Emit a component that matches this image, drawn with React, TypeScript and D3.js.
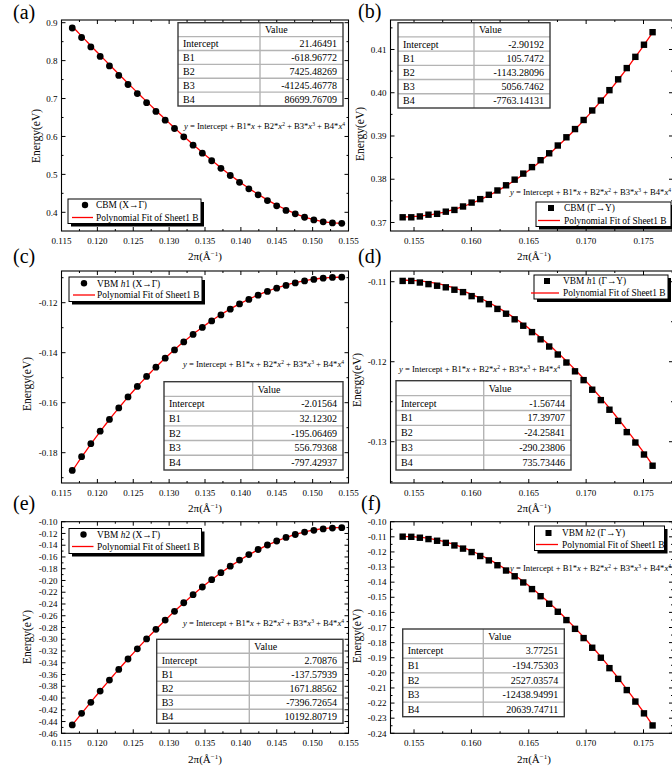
import * as d3 from "d3";

// k-point positions (2π/Å)
const xXG = [
  0.1165, 0.1178, 0.11909, 0.12039, 0.12168, 0.12298, 0.12427, 0.12557, 0.12686, 0.12816,
  0.12945, 0.13075, 0.13204, 0.13334, 0.13463, 0.13593, 0.13722, 0.13852, 0.13981, 0.14111,
  0.1424, 0.1437, 0.14499, 0.14629, 0.14758, 0.14888, 0.15017, 0.15147, 0.15276, 0.15406,
];
const xGY = [
  0.15401, 0.15476, 0.15551, 0.15626, 0.15701, 0.15777, 0.15852, 0.15927, 0.16002, 0.16077,
  0.16152, 0.16227, 0.16302, 0.16377, 0.16452, 0.16528, 0.16603, 0.16678, 0.16753, 0.16828,
  0.16903, 0.16978, 0.17053, 0.17128, 0.17203, 0.17279, 0.17354, 0.17429, 0.17504, 0.17579,
];

// band energies (eV)
const cbmXG = [
  0.886, 0.861, 0.836, 0.811, 0.786, 0.761, 0.737, 0.713, 0.689, 0.666,
  0.643, 0.621, 0.599, 0.577, 0.556, 0.536, 0.516, 0.497, 0.479, 0.462,
  0.446, 0.431, 0.417, 0.405, 0.396, 0.387, 0.38, 0.375, 0.372, 0.371,
];
const cbmGY = [
  0.3712, 0.3712, 0.3714, 0.3718, 0.372, 0.3725, 0.3729, 0.3737, 0.3746, 0.3754,
  0.3764, 0.3774, 0.3786, 0.3799, 0.3813, 0.3828, 0.3844, 0.386, 0.3878, 0.3897,
  0.3916, 0.3937, 0.3959, 0.3982, 0.4006, 0.4031, 0.4057, 0.4083, 0.4111, 0.414,
];
const vbmH1XG = [
  -0.1871, -0.1816, -0.1764, -0.1714, -0.1667, -0.1621, -0.1577, -0.1535, -0.1495, -0.1458,
  -0.1422, -0.1389, -0.1357, -0.1327, -0.1299, -0.1273, -0.1249, -0.1226, -0.1205, -0.1187,
  -0.117, -0.1155, -0.1142, -0.1131, -0.1121, -0.1113, -0.1107, -0.1102, -0.1099, -0.1098,
];
const vbmH1GY = [
  -0.1099, -0.1099, -0.1101, -0.1103, -0.1105, -0.1107, -0.111, -0.1113, -0.1118, -0.1122,
  -0.1128, -0.1134, -0.114, -0.1147, -0.1155, -0.1163, -0.1172, -0.1181, -0.1191, -0.1201,
  -0.1212, -0.1223, -0.1235, -0.1248, -0.126, -0.1274, -0.1288, -0.1301, -0.1316, -0.133,
];
const vbmH2XG = [
  -0.4458, -0.426, -0.4073, -0.3882, -0.3695, -0.3513, -0.3336, -0.3163, -0.2995, -0.2831,
  -0.2674, -0.2524, -0.2379, -0.2241, -0.2111, -0.1987, -0.1868, -0.1757, -0.1653, -0.1559,
  -0.1473, -0.1396, -0.1328, -0.1268, -0.1218, -0.1177, -0.1146, -0.1123, -0.1109, -0.1102,
];
const vbmH2GY = [
  -0.1099, -0.11, -0.1106, -0.1115, -0.1126, -0.114, -0.1157, -0.1178, -0.1201, -0.1227,
  -0.1256, -0.1288, -0.1323, -0.1361, -0.1402, -0.1446, -0.1493, -0.1543, -0.1596, -0.1651,
  -0.1709, -0.177, -0.1834, -0.19, -0.1969, -0.204, -0.2114, -0.219, -0.2268, -0.2348,
];

// polynomial fit coefficients: Intercept, B1..B4
const coefLabels = ["Intercept", "B1", "B2", "B3", "B4"];
const coefA = [21.46491, -618.96772, 7425.48269, -41245.46778, 86699.76709];
const coefB = [-2.90192, 105.7472, -1143.28096, 5056.7462, -7763.14131];
const coefC = [-2.01564, 32.12302, -195.06469, 556.79368, -797.42937];
const coefD = [-1.56744, 17.39707, -24.25841, -290.23806, 735.73446];
const coefE = [2.70876, -137.57939, 1671.88562, -7396.72654, 10192.80719];
const coefF = [3.77251, -194.75303, 2527.03574, -12438.94991, 20639.74711];

// tick labels
const xTicksXG = [0.115, 0.12, 0.125, 0.13, 0.135, 0.14, 0.145, 0.15, 0.155];
const xTicksGY = [0.155, 0.16, 0.165, 0.17, 0.175];
const yTicksA = [0.4, 0.5, 0.6, 0.7, 0.8, 0.9];
const yTicksB = [0.37, 0.38, 0.39, 0.4, 0.41];
const yTicksC = [-0.18, -0.16, -0.14, -0.12];
const yTicksD = [-0.13, -0.12, -0.11];
const yTicksE = [
  -0.46, -0.44, -0.42, -0.4, -0.38, -0.36, -0.34, -0.32, -0.3, -0.28,
  -0.26, -0.24, -0.22, -0.2, -0.18, -0.16, -0.14, -0.12, -0.1,
];
const yTicksF = [
  -0.24, -0.23, -0.22, -0.21, -0.2, -0.19, -0.18, -0.17, -0.16, -0.15, -0.14, -0.13, -0.12, -0.11, -0.1,
];

const FONT = '"Liberation Serif", "DejaVu Serif", serif';

type Box = [number, number, number, number];
type Cfg = {
  letter: string;
  letterPos: [number, number];
  xs: number[];
  ys: number[];
  coef: number[];
  xDomain: [number, number];
  xRange: [number, number];
  yDomain: [number, number];
  yRange: [number, number];
  xTicks: number[];
  yTicks: number[];
  yDigits: number;
  xMinor: number;
  yMinor: number;
  symbol: "circle" | "square";
  legend: { box: Box; rows: [number, number]; symX: number; line: [number, number]; textX: number; label: [string, string, string] };
  table: { x0: number; x1: number; xd: number; y0: number; y1: number };
  formula: [number, number];
  yTitle: [number, number];
  xTitle: [number, number];
};

const poly = (c: number[], x: number) => c[0] + c[1] * x + c[2] * x * x + c[3] * x ** 3 + c[4] * x ** 4;

function minors(domain: [number, number], step: number, majors: number[]) {
  const lo = Math.min(...domain), hi = Math.max(...domain);
  const out: number[] = [];
  for (let k = Math.ceil(lo / step - 1e-6); k <= Math.floor(hi / step + 1e-6); k++) {
    const v = k * step;
    if (!majors.some((m) => Math.abs(m - v) < step / 10)) out.push(v);
  }
  return out;
}

function Formula({ x, y }: { x: number; y: number }) {
  const sup = (n: string, rest: string) => [
    <tspan key={n + "s"} dy={-3.4} fontSize={5.5}>{n}</tspan>,
    <tspan key={n + "r"} dy={3.4}>{rest}</tspan>,
  ];
  return (
    <text x={x} y={y} fontSize={8.6} fill="#000" style={{ whiteSpace: "pre" }}>
      <tspan fontStyle="italic">y</tspan>
      <tspan>{" = Intercept + B1*"}</tspan>
      <tspan fontStyle="italic">x</tspan>
      <tspan>{" + B2*"}</tspan>
      <tspan fontStyle="italic">x</tspan>
      {sup("2", " + B3*")}
      <tspan fontStyle="italic">x</tspan>
      {sup("3", " + B4*")}
      <tspan fontStyle="italic">x</tspan>
      <tspan dy={-3.4} fontSize={5.5}>4</tspan>
    </text>
  );
}

function Panel({ c }: { c: Cfg }) {
  const x = d3.scaleLinear().domain(c.xDomain).range(c.xRange);
  const y = d3.scaleLinear().domain(c.yDomain).range(c.yRange);
  const [l, r] = c.xRange;
  const [b, t] = c.yRange;
  const xMin = minors(c.xDomain, c.xMinor, c.xTicks);
  const yMin = minors(c.yDomain, c.yMinor, c.yTicks);
  const x0 = c.xs[0], x1 = c.xs[c.xs.length - 1];
  const fitXs = d3.range(121).map((i) => x0 + ((x1 - x0) * i) / 120);
  const line = d3.line<number>().x((v) => x(v)).y((v) => y(poly(c.coef, v)));
  const tb = c.table;
  const rh = (tb.y1 - tb.y0) / 6;
  const lg = c.legend;
  const M = 4, m = 2;
  return (
    <g>
      <text x={c.letterPos[0]} y={c.letterPos[1]} fontSize={20}>{c.letter}</text>
      {c.xTicks.filter((v) => x(v) >= l - 0.5 && x(v) <= r + 0.5).map((v) => (
        <g key={"xt" + v}>
          <line x1={x(v)} x2={x(v)} y1={b} y2={b - M} stroke="#000" />
          <line x1={x(v)} x2={x(v)} y1={t} y2={t + M} stroke="#000" />
        </g>
      ))}
      {c.xTicks.map((v) => (
        <text key={"xl" + v} x={x(v)} y={b + 13} fontSize={9} textAnchor="middle">{v.toFixed(3)}</text>
      ))}
      {xMin.map((v) => (
        <g key={"xm" + v}>
          <line x1={x(v)} x2={x(v)} y1={b} y2={b - m} stroke="#000" />
          <line x1={x(v)} x2={x(v)} y1={t} y2={t + m} stroke="#000" />
        </g>
      ))}
      {c.yTicks.map((v) => (
        <g key={"yt" + v}>
          <line x1={l} x2={l + M} y1={y(v)} y2={y(v)} stroke="#000" />
          <line x1={r} x2={r - M} y1={y(v)} y2={y(v)} stroke="#000" />
          <text x={l - 4} y={y(v) + 3.2} fontSize={9} textAnchor="end">{v.toFixed(c.yDigits)}</text>
        </g>
      ))}
      {yMin.map((v) => (
        <g key={"ym" + v}>
          <line x1={l} x2={l + m} y1={y(v)} y2={y(v)} stroke="#000" />
          <line x1={r} x2={r - m} y1={y(v)} y2={y(v)} stroke="#000" />
        </g>
      ))}
      <rect x={l} y={t} width={r - l} height={b - t} fill="none" stroke="#000" strokeWidth={1.1} />
      <text transform={`translate(${c.yTitle[0]},${c.yTitle[1]}) rotate(-90)`} fontSize={11.5} textAnchor="middle">Energy(eV)</text>
      <text x={c.xTitle[0]} y={c.xTitle[1]} fontSize={11} textAnchor="middle">
        2π(Å<tspan dy={-4} fontSize={7}>−1</tspan><tspan dy={4}>)</tspan>
      </text>
      {/* fit table */}
      <rect x={tb.x0} y={tb.y0} width={tb.x1 - tb.x0} height={tb.y1 - tb.y0} fill="#fff" />
      {d3.range(1, 6).map((i) => (
        <line key={"tr" + i} x1={tb.x0} x2={tb.x1} y1={tb.y0 + i * rh} y2={tb.y0 + i * rh} stroke="#b4b4b4" strokeWidth={1.4} />
      ))}
      <line x1={tb.xd} x2={tb.xd} y1={tb.y0} y2={tb.y1} stroke="#b4b4b4" strokeWidth={1.4} />
      <rect x={tb.x0} y={tb.y0} width={tb.x1 - tb.x0} height={tb.y1 - tb.y0} fill="none" stroke="#3a3a3a" strokeWidth={1.4} />
      <text x={tb.xd + 5} y={tb.y0 + rh / 2 + 3.5} fontSize={10}>Value</text>
      {coefLabels.map((s, i) => (
        <g key={"tl" + s}>
          <text x={tb.x0 + 5} y={tb.y0 + (i + 1.5) * rh + 3.5} fontSize={10}>{s}</text>
          <text x={tb.x1 - 6} y={tb.y0 + (i + 1.5) * rh + 3.5} fontSize={10} textAnchor="end">{String(c.coef[i])}</text>
        </g>
      ))}
      <Formula x={c.formula[0]} y={c.formula[1]} />
      <path d={line(fitXs) || ""} fill="none" stroke="#ff0000" strokeWidth={1.3} />
      {c.xs.map((v, i) =>
        c.symbol === "circle" ? (
          <circle key={"p" + i} cx={x(v)} cy={y(c.ys[i])} r={3.4} fill="#000" />
        ) : (
          <rect key={"p" + i} x={x(v) - 3.2} y={y(c.ys[i]) - 3.2} width={6.4} height={6.4} fill="#000" />
        )
      )}
      {/* legend */}
      <rect x={lg.box[0] + 3} y={lg.box[1] + 3} width={lg.box[2] - lg.box[0]} height={lg.box[3] - lg.box[1]} fill="#000" />
      <rect x={lg.box[0]} y={lg.box[1]} width={lg.box[2] - lg.box[0]} height={lg.box[3] - lg.box[1]} fill="#fff" stroke="#000" strokeWidth={1} />
      {c.symbol === "circle" ? (
        <circle cx={lg.symX} cy={lg.rows[0]} r={3.2} fill="#000" />
      ) : (
        <rect x={lg.symX - 3} y={lg.rows[0] - 3} width={6} height={6} fill="#000" />
      )}
      <text x={lg.textX} y={lg.rows[0] + 3.3} fontSize={9.4}>
        {lg.label[0]}
        <tspan fontStyle="italic">{lg.label[1]}</tspan>
        {lg.label[2]}
      </text>
      <line x1={lg.line[0]} x2={lg.line[1]} y1={lg.rows[1]} y2={lg.rows[1]} stroke="#ff0000" strokeWidth={1.3} />
      <text x={lg.textX} y={lg.rows[1] + 3.3} fontSize={9.4}>Polynomial Fit of Sheet1 B</text>
    </g>
  );
}

const LX: [number, number] = [0.115, 0.155];
const LR: [number, number] = [61.5, 348.5];
const RX: [number, number] = [0.15295, 0.17757];
const RR: [number, number] = [390.5, 673];

const panels: Cfg[] = [
  {
    letter: "(a)", letterPos: [13, 19], xs: xXG, ys: cbmXG, coef: coefA,
    xDomain: LX, xRange: LR, yDomain: [0.3507, 0.9071], yRange: [231, 20],
    xTicks: xTicksXG, yTicks: yTicksA, yDigits: 1, xMinor: 0.0025, yMinor: 0.05, symbol: "circle",
    legend: { box: [68, 199, 201, 223.5], rows: [205, 217.5], symX: 85, line: [72, 93], textX: 96, label: ["CBM (X→Γ)", "", ""] },
    table: { x0: 178, x1: 343, xd: 260, y0: 22.7, y1: 106 },
    formula: [184, 129], yTitle: [40, 136], xTitle: [205, 260],
  },
  {
    letter: "(b)", letterPos: [358, 18], xs: xGY, ys: cbmGY, coef: coefB,
    xDomain: RX, xRange: RR, yDomain: [0.36803, 0.41682], yRange: [231, 20],
    xTicks: xTicksGY, yTicks: yTicksB, yDigits: 2, xMinor: 0.0025, yMinor: 0.005, symbol: "square",
    legend: { box: [536, 202, 671, 226.5], rows: [208, 220.5], symX: 551, line: [538, 560], textX: 564, label: ["CBM (Γ→Y)", "", ""] },
    table: { x0: 398, x1: 550, xd: 474, y0: 22.7, y1: 108 },
    formula: [510, 195], yTitle: [364, 134], xTitle: [534, 260],
  },
  {
    letter: "(c)", letterPos: [13, 263], xs: xXG, ys: vbmH1XG, coef: coefC,
    xDomain: LX, xRange: LR, yDomain: [-0.19212, -0.10732], yRange: [483, 271],
    xTicks: xTicksXG, yTicks: yTicksC, yDigits: 2, xMinor: 0.0025, yMinor: 0.01, symbol: "circle",
    legend: { box: [69, 277, 202, 301.5], rows: [283.3, 295], symX: 84, line: [73, 95], textX: 97, label: ["VBM ", "h", "1 (X→Γ)"] },
    table: { x0: 164, x1: 343, xd: 252.7, y0: 381.7, y1: 470 },
    formula: [183, 367], yTitle: [31, 384], xTitle: [205, 512],
  },
  {
    letter: "(d)", letterPos: [358, 263], xs: xGY, ys: vbmH1GY, coef: coefD,
    xDomain: RX, xRange: RR, yDomain: [-0.13516, -0.10866], yRange: [483, 271],
    xTicks: xTicksGY, yTicks: yTicksD, yDigits: 2, xMinor: 0.0025, yMinor: 0.005, symbol: "square",
    legend: { box: [534, 275, 668, 299], rows: [281, 293], symX: 547, line: [531, 559], textX: 563, label: ["VBM ", "h", "1 (Γ→Y)"] },
    table: { x0: 396, x1: 571, xd: 483.7, y0: 380.7, y1: 470 },
    formula: [399, 372], yTitle: [361, 380], xTitle: [534, 512],
  },
  {
    letter: "(e)", letterPos: [13, 510], xs: xXG, ys: vbmH2XG, coef: coefE,
    xDomain: LX, xRange: LR, yDomain: [-0.46, -0.1], yRange: [733.3, 521.7],
    xTicks: xTicksXG, yTicks: yTicksE, yDigits: 2, xMinor: 0.0025, yMinor: 0.01, symbol: "circle",
    legend: { box: [69, 528.5, 201.5, 553.5], rows: [534.5, 546.5], symX: 83.5, line: [72, 93.5], textX: 97, label: ["VBM ", "h", "2 (X→Γ)"] },
    table: { x0: 156.7, x1: 343, xd: 249.3, y0: 639.3, y1: 723.3 },
    formula: [183, 626], yTitle: [31, 637], xTitle: [205, 763],
  },
  {
    letter: "(f)", letterPos: [361, 510], xs: xGY, ys: vbmH2GY, coef: coefF,
    xDomain: RX, xRange: RR, yDomain: [-0.24, -0.1], yRange: [733.3, 521.7],
    xTicks: xTicksGY, yTicks: yTicksF, yDigits: 2, xMinor: 0.0025, yMinor: 0.005, symbol: "square",
    legend: { box: [534.5, 526, 664.5, 550.5], rows: [533, 544.5], symX: 548.5, line: [536, 558], textX: 562, label: ["VBM ", "h", "2 (Γ→Y)"] },
    table: { x0: 402.7, x1: 564.3, xd: 483.3, y0: 629, y1: 716.7 },
    formula: [510, 571], yTitle: [361, 636], xTitle: [534, 763],
  },
];

export default function App() {
  return (
    <svg
      width={672}
      height={771}
      style={{ position: "absolute", left: 0, top: 0, background: "#fff", fontFamily: FONT }}
    >
      <rect width={672} height={771} fill="#fff" />
      {panels.map((p) => (
        <Panel key={p.letter} c={p} />
      ))}
    </svg>
  );
}
